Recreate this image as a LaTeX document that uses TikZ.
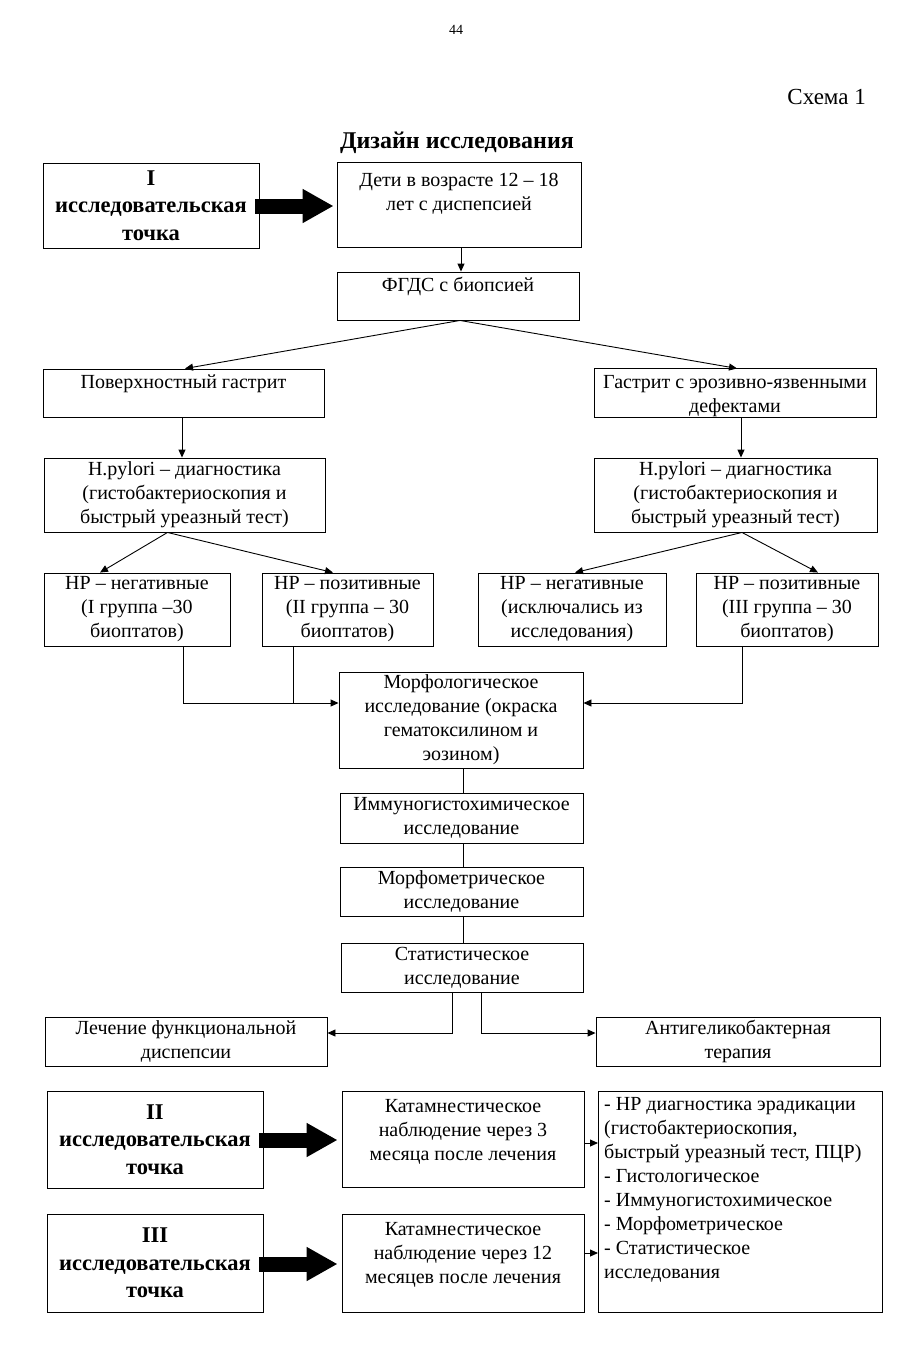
\documentclass[tikz,border=0pt]{standalone}
\usepackage{fontspec}
\setmainfont{Liberation Serif}
\usetikzlibrary{arrows.meta,calc}
\newcommand\tstr[1]{\rule{0pt}{#1}}
\newcommand\bstr[1]{\rule[-#1]{0pt}{#1}}
\begin{document}
\begin{tikzpicture}[x=1pt,y=-1pt,
  box/.style={draw, line width=0.9pt, inner sep=0pt, align=center, font=\fontsize{20}{24}\selectfont},
  bbox/.style={draw, line width=0.9pt, inner sep=0pt, align=center, font=\fontsize{22.5}{27.5}\selectfont\bfseries},
  txt/.style={inner sep=0pt, font=\fontsize{20}{24}\selectfont},
  con/.style={line width=0.9pt},
  arr/.style={line width=0.9pt, -{Triangle[length=8pt,width=7pt]}},
  big/.style={line width=15pt, -{Triangle[length=31pt,width=32pt]}}
]
\path[use as bounding box, fill=white] (0,0) rectangle (924,1350);

% header texts
\node[txt, font=\fontsize{14}{16}\selectfont] (pnum) at (456,30) {44};
\node[txt, anchor=east, font=\fontsize{23}{26}\selectfont] (schema) at (866,97) {Схема 1};
\node[txt, font=\fontsize{24}{26}\selectfont\bfseries] (title) at (457,143) {Дизайн исследования};

% top section
\node[bbox, minimum width=216, minimum height=85] (p1) at (151,205.5) {I\\исследовательская\\точка};
\node[box, minimum width=244, minimum height=85] (deti) at (459,204.5) {\tstr{24pt}Дети в возрасте 12 – 18\\лет с диспепсией\bstr{37pt}};
\node[box, minimum width=242, minimum height=48] (fgds) at (458,296) {\tstr{19pt}ФГДС с биопсией\bstr{29pt}};

\node[box, minimum width=281, minimum height=48] (pov) at (183.5,393) {\tstr{19pt}Поверхностный гастрит\bstr{29pt}};
\node[box, minimum width=282, minimum height=48] (gas) at (735,393) {\tstr{20pt}Гастрит с эрозивно-язвенными\\дефектами\bstr{4pt}};

\node[box, minimum width=281, minimum height=74] (hpl) at (184.5,495) {H.pylori – диагностика\\(гистобактериоскопия и\\быстрый уреазный тест)};
\node[box, minimum width=283, minimum height=74] (hpr) at (735.5,495) {H.pylori – диагностика\\(гистобактериоскопия и\\быстрый уреазный тест)};

\node[box, minimum width=186, minimum height=73] (hpn1) at (137,609.5) {HP – негативные\\(I группа –30\\биоптатов)};
\node[box, minimum width=171, minimum height=73] (hpp1) at (347.5,609.5) {HP – позитивные\\(II группа – 30\\биоптатов)};
\node[box, minimum width=188, minimum height=73] (hpn2) at (572,609.5) {HP – негативные\\(исключались из\\исследования)};
\node[box, minimum width=182, minimum height=73] (hpp2) at (787,609.5) {HP – позитивные\\(III группа – 30\\биоптатов)};

% central column
\node[box, minimum width=244, minimum height=96] (morph) at (461,720) {Морфологическое\\исследование (окраска\\гематоксилином и\\эозином)};
\node[box, minimum width=243, minimum height=50] (immuno) at (461.5,818) {Иммуногистохимическое\\исследование};
\node[box, minimum width=243, minimum height=49] (mmetr) at (461.5,891.5) {Морфометрическое\\исследование};
\node[box, minimum width=242, minimum height=49] (stat) at (462,967.5) {Статистическое\\исследование};

\node[box, minimum width=282, minimum height=49] (lech) at (186,1041.5) {Лечение функциональной\\диспепсии};
\node[box, minimum width=284, minimum height=49] (anti) at (738,1041.5) {Антигеликобактерная\\терапия};

% bottom section
\node[bbox, minimum width=216, minimum height=97] (p2) at (155,1139.5) {II\\исследовательская\\точка};
\node[box, minimum width=242, minimum height=96] (kat3) at (463,1139) {\tstr{21pt}Катамнестическое\\наблюдение через 3\\месяца после лечения\bstr{27pt}};
\node[bbox, minimum width=216, minimum height=98] (p3) at (155,1263) {III\\исследовательская\\точка};
\node[box, minimum width=242, minimum height=98] (kat12) at (463,1263) {\tstr{21pt}Катамнестическое\\наблюдение через 12\\месяцев после лечения\bstr{29pt}};
\node[box, minimum width=284, minimum height=221, anchor=north west] (list) at (598,1091) {};
\node[txt, anchor=north west, align=left] (listtxt) at (604,1093) {\strut - HP диагностика эрадикации\\(гистобактериоскопия,\\быстрый уреазный тест, ПЦР)\\- Гистологическое\\- Иммуногистохимическое\\- Морфометрическое\\- Статистическое\\исследования};

% thick arrows
\draw[big] ($(p1.east)+(-4,0.5)$) -- ($(deti.west)+(-3,1.5)$);
\draw[big] ($(p2.east)+(-4,0.5)$) -- ($(kat3.west)+(-4,1)$);
\draw[big] ($(p3.east)+(-4,1)$) -- ($(kat12.west)+(-4,1)$);

% connectors
\draw[arr] ($(deti.south)+(2,0)$) -- ($(fgds.north)+(3,0)$);
\coordinate (f0) at ($(fgds.south)+(2,0)$);
\draw[arr] (f0) -- ($(pov.north)+(1.5,0)$);
\draw[arr] (f0) -- ($(gas.north)+(2,0)$);
\draw[arr] ($(pov.south)+(-1.5,0)$) -- ($(hpl.north)+(-2.5,0)$);
\coordinate (g1) at ($(gas.south)+(6,0)$);
\draw[arr] (g1) -- (g1 |- hpr.north);

\coordinate (s1) at ($(hpl.south)+(-17,0)$);
\draw[arr] (s1) -- ($(hpn1.north)+(-37,0)$);
\draw[arr] (s1) -- ($(hpp1.north)+(-14.5,0)$);
\coordinate (s2) at ($(hpr.south)+(6.5,0)$);
\draw[arr] (s2) -- ($(hpn2.north)+(3,0)$);
\draw[arr] (s2) -- ($(hpp2.north)+(31,0)$);

\coordinate (mL) at ($(morph.west)+(0,-17)$);
\coordinate (mR) at ($(morph.east)+(0,-17)$);
\coordinate (c1) at ($(hpn1.south)+(46,0)$);
\coordinate (c2) at ($(hpp1.south)+(-54.5,0)$);
\coordinate (c3) at ($(hpp2.south)+(-45,0)$);
\draw[arr] (c1) |- (mL);
\draw[con] (c2) -- (c2 |- mL);
\draw[arr] (c3) |- (mR);

\draw[con] ($(morph.south)+(2,0)$) -- ($(immuno.north)+(1.5,0)$);
\draw[con] ($(immuno.south)+(1.5,0)$) -- ($(mmetr.north)+(1.5,0)$);
\draw[con] ($(mmetr.south)+(1.5,0)$) -- ($(stat.north)+(1,0)$);

\coordinate (t1) at ($(stat.south)+(-10,0)$);
\coordinate (t2) at ($(stat.south)+(19,0)$);
\coordinate (lE) at ($(lech.east)+(0,-8.5)$);
\coordinate (aW) at ($(anti.west)+(0,-8.5)$);
\draw[arr] (t1) |- (lE);
\draw[arr] (t2) |- (aW);

\coordinate (k3) at ($(kat3.east)+(0,4)$);
\coordinate (k12) at ($(kat12.east)+(0,-10)$);
\draw[arr] (k3) -- (k3 -| list.west);
\draw[arr] (k12) -- (k12 -| list.west);
\end{tikzpicture}
\end{document}
